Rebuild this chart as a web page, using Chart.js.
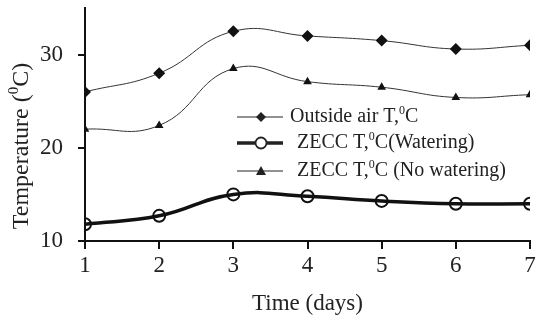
<!DOCTYPE html>
<html>
<head>
<meta charset="utf-8">
<script src="https://cdn.jsdelivr.net/npm/chart.js@4.4.0/dist/chart.umd.min.js"></script>
<style>
  html, body { margin: 0; padding: 0; background: #fff; }
  #wrap { width: 538px; height: 322px; position: relative; }
</style>
</head>
<body>
<div id="wrap"><canvas id="chart" width="538" height="322"></canvas></div>
<script>
// data
const days = [1, 2, 3, 4, 5, 6, 7];
const outsideAir = [26, 28, 32.5, 32, 31.5, 30.6, 31];
const zeccWatering = [11.8, 12.7, 15, 14.8, 14.3, 14, 14];
const zeccNoWatering = [22, 22.4, 28.5, 27.1, 26.5, 25.4, 25.7];
const yTicks = [10, 20, 30];

const FONT = '"Liberation Serif", "Times New Roman", serif';

function pts(vals) {
  return days.map((d, i) => ({ x: d, y: vals[i] }));
}

// draws text pieces, some as superscript, starting at x (left aligned, middle baseline)
function drawRich(ctx, parts, x, y, size) {
  ctx.textBaseline = 'middle';
  ctx.textAlign = 'left';
  parts.forEach(p => {
    if (p.sup) {
      ctx.font = Math.round(size * 0.62) + 'px ' + FONT;
      ctx.fillText(p.t, x, y - size * 0.32);
    } else {
      ctx.font = size + 'px ' + FONT;
      ctx.fillText(p.t, x, y);
    }
    x += ctx.measureText(p.t).width;
  });
  return x;
}

function richWidth(ctx, parts, size) {
  let w = 0;
  parts.forEach(p => {
    ctx.font = (p.sup ? Math.round(size * 0.62) : size) + 'px ' + FONT;
    w += ctx.measureText(p.t).width;
  });
  return w;
}

const legendItems = [
  { parts: [{ t: 'Outside air T,' }, { t: '0', sup: true }, { t: 'C' }], style: 'diamond', width: 1, tx: 290, y: 117 },
  { parts: [{ t: 'ZECC T,' }, { t: '0', sup: true }, { t: 'C(Watering)' }], style: 'circle', width: 3.5, tx: 297, y: 143 },
  { parts: [{ t: 'ZECC T,' }, { t: '0', sup: true }, { t: 'C (No watering)' }], style: 'triangle', width: 1, tx: 297, y: 171 }
];

const extras = {
  id: 'extras',
  afterDraw(chart) {
    const ctx = chart.ctx;
    ctx.save();
    ctx.fillStyle = '#222';
    ctx.strokeStyle = '#222';

    // legend inside the plot
    legendItems.forEach(it => {
      ctx.lineWidth = it.width;
      ctx.beginPath();
      ctx.moveTo(237, it.y);
      ctx.lineTo(283, it.y);
      ctx.stroke();
      const mx = 261, my = it.y;
      ctx.beginPath();
      if (it.style === 'diamond') {
        ctx.moveTo(mx, my - 5); ctx.lineTo(mx + 5, my); ctx.lineTo(mx, my + 5); ctx.lineTo(mx - 5, my);
        ctx.closePath(); ctx.fill();
      } else if (it.style === 'circle') {
        ctx.arc(mx, my, 5.5, 0, Math.PI * 2);
        ctx.fillStyle = '#fff'; ctx.fill();
        ctx.lineWidth = 1.8; ctx.stroke();
        ctx.fillStyle = '#222';
      } else {
        ctx.moveTo(mx, my - 5); ctx.lineTo(mx + 5, my + 4); ctx.lineTo(mx - 5, my + 4);
        ctx.closePath(); ctx.fill();
      }
      drawRich(ctx, it.parts, it.tx, it.y, 20);
    });

    // y axis title (rotated, with superscript)
    const yParts = [{ t: 'Temperature (' }, { t: '0', sup: true }, { t: 'C)' }];
    ctx.translate(22, 146);
    ctx.rotate(-Math.PI / 2);
    const w = richWidth(ctx, yParts, 24);
    drawRich(ctx, yParts, -w / 2, 0, 24);
    ctx.restore();
  }
};

const ctx = document.getElementById('chart').getContext('2d');

new Chart(ctx, {
  type: 'line',
  data: {
    datasets: [
      {
        label: 'Outside air T,0C',
        data: pts(outsideAir),
        borderColor: '#333',
        borderWidth: 1,
        backgroundColor: '#111',
        pointStyle: 'rectRot',
        pointRadius: 6,
        pointBorderWidth: 0,
        tension: 0.45
      },
      {
        label: 'ZECC T,0C(Watering)',
        data: pts(zeccWatering),
        borderColor: '#111',
        borderWidth: 3.5,
        backgroundColor: 'rgba(0,0,0,0)',
        pointStyle: 'circle',
        pointRadius: 6,
        pointBorderWidth: 2,
        pointBorderColor: '#111',
        tension: 0.45
      },
      {
        label: 'ZECC T,0C (No watering)',
        data: pts(zeccNoWatering),
        borderColor: '#333',
        borderWidth: 1,
        backgroundColor: '#111',
        pointStyle: 'triangle',
        pointRadius: 5,
        pointBorderWidth: 0,
        tension: 0.45
      }
    ]
  },
  options: {
    responsive: false,
    animation: false,
    layout: { padding: { left: 0, right: 8, top: 8, bottom: 0 } },
    plugins: {
      legend: { display: false },
      tooltip: { enabled: false }
    },
    scales: {
      x: {
        type: 'linear',
        min: 1,
        max: 7,
        afterFit: s => { s.height = 81; s.paddingLeft = 0; s.paddingRight = 0; },
        afterBuildTicks: s => { s.ticks = days.map(v => ({ value: v })); },
        border: { color: '#111', width: 2 },
        grid: { drawOnChartArea: false, tickLength: 8, color: '#111', lineWidth: 2 },
        ticks: { color: '#222', font: { family: FONT, size: 23 }, padding: 3 },
        title: { display: true, text: 'Time (days)', color: '#222', font: { family: FONT, size: 23 }, padding: { top: 0 } }
      },
      y: {
        min: 10,
        max: 35,
        afterFit: s => { s.width = 85; s.paddingTop = 0; s.paddingBottom = 0; },
        afterBuildTicks: s => { s.ticks = yTicks.map(v => ({ value: v })); },
        border: { color: '#111', width: 2 },
        grid: { drawOnChartArea: false, tickLength: 7, color: '#111', lineWidth: 2 },
        ticks: { color: '#222', font: { family: FONT, size: 23 }, padding: 15 }
      }
    }
  },
  plugins: [extras]
});
</script>
</body>
</html>
